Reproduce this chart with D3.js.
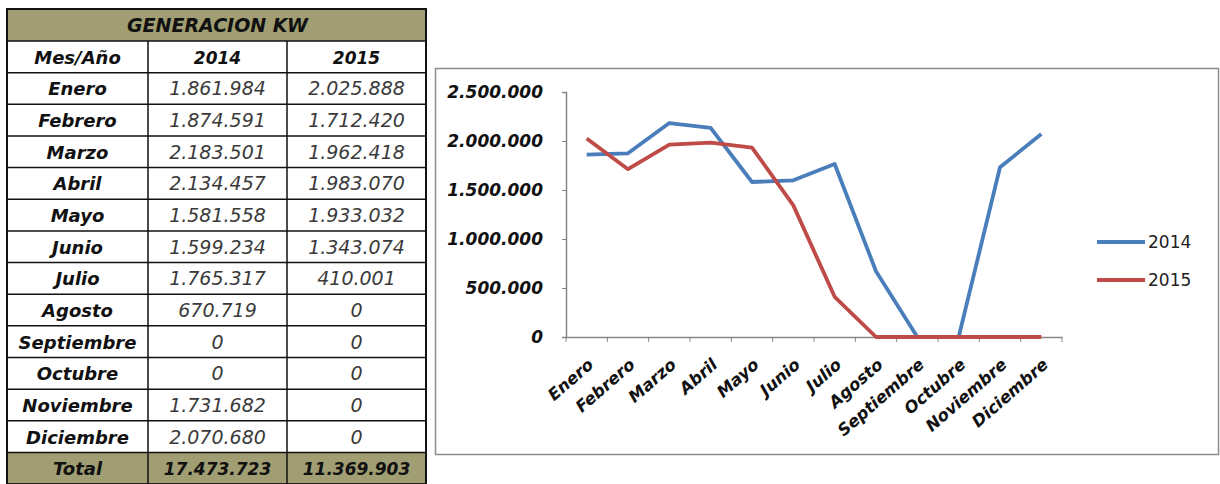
<!DOCTYPE html>
<html lang="es">
<head>
<meta charset="utf-8">
<title>Generacion KW</title>
<style>
  body { margin: 0; background: #fff; }
  svg { display: block; font-family: "DejaVu Sans", sans-serif; }
</style>
</head>
<body>
<svg id="chart" width="1220" height="484"></svg>
<script src="https://d3js.org/d3.v7.min.js"></script>
<script>
// data
var months = ["Enero", "Febrero", "Marzo", "Abril", "Mayo", "Junio", "Julio",
  "Agosto", "Septiembre", "Octubre", "Noviembre", "Diciembre"];
var years = ["2014", "2015"];
var values2014 = [1861984, 1874591, 2183501, 2134457, 1581558, 1599234, 1765317,
  670719, 0, 0, 1731682, 2070680];
var values2015 = [2025888, 1712420, 1962418, 1983070, 1933032, 1343074, 410001,
  0, 0, 0, 0, 0];
var yTicks = [0, 500000, 1000000, 1500000, 2000000, 2500000];
var colors = ["#4a7ebb", "#be4b48"];

var es = d3.formatLocale({ decimal: ",", thousands: ".", grouping: [3], currency: ["", ""] });
var fmt = es.format(",d");

var svg = d3.select("#chart");

// ---- table ----
var tLeft = 7, tTop = 9, colW = [141, 139, 139], titleH = 32, rowH = 31.65;
var olive = "#a09e72";
var tableWidth = d3.sum(colW);
var colX = [tLeft, tLeft + colW[0], tLeft + colW[0] + colW[1]];

var rows = [];
rows.push({ cells: ["Mes/Año", years[0], years[1]], kind: "head" });
months.forEach(function(m, i) {
  rows.push({ cells: [m, fmt(values2014[i]), fmt(values2015[i])], kind: "body" });
});
rows.push({ cells: ["Total", fmt(d3.sum(values2014)), fmt(d3.sum(values2015))], kind: "total" });

var table = svg.append("g");

table.append("rect")
  .attr("x", tLeft).attr("y", tTop)
  .attr("width", tableWidth).attr("height", titleH)
  .attr("fill", olive);

table.append("text")
  .attr("x", tLeft + tableWidth / 2 + 1).attr("y", tTop + titleH / 2 + 7)
  .attr("text-anchor", "middle")
  .style("font-size", "19px").style("font-weight", "bold").style("font-style", "italic")
  .attr("fill", "#111")
  .text("GENERACION KW");

rows.forEach(function(r, i) {
  var y = tTop + titleH + i * rowH;
  var g = table.append("g").attr("transform", "translate(0," + y + ")");
  if (r.kind === "total") {
    g.append("rect").attr("x", tLeft).attr("width", tableWidth).attr("height", rowH).attr("fill", olive);
  }
  r.cells.forEach(function(c, j) {
    var bold = (j === 0 || r.kind !== "body");
    var size = j === 0 ? 18 : (bold ? 17 : 19);
    g.append("text")
      .attr("x", colX[j] + colW[j] / 2).attr("y", rowH / 2 + 7)
      .attr("text-anchor", "middle")
      .style("font-size", size + "px")
      .style("font-style", "italic")
      .style("font-weight", bold ? "bold" : "normal")
      .attr("fill", bold ? "#111" : "#3a3a3a")
      .text(c);
  });
  g.append("line")
    .attr("x1", tLeft).attr("x2", tLeft + tableWidth)
    .attr("y1", 0).attr("y2", 0)
    .attr("stroke", "#111").attr("stroke-width", 1.5);
});

var tBottom = tTop + titleH + rows.length * rowH;
[colX[1], colX[2]].forEach(function(x) {
  table.append("line")
    .attr("x1", x).attr("x2", x).attr("y1", tTop + titleH).attr("y2", tBottom)
    .attr("stroke", "#111").attr("stroke-width", 1.5);
});
table.append("rect")
  .attr("x", tLeft).attr("y", tTop)
  .attr("width", tableWidth).attr("height", tBottom - tTop)
  .attr("fill", "none").attr("stroke", "#111").attr("stroke-width", 2);

// ---- chart ----
svg.append("rect")
  .attr("x", 435.5).attr("y", 68.5).attr("width", 783).attr("height", 386)
  .attr("fill", "#fff").attr("stroke", "#8c8c8c").attr("stroke-width", 1.5);

var plotLeft = 566, plotRight = 1062, plotTop = 92, plotBottom = 337;

var x = d3.scaleBand().domain(months).range([plotLeft, plotRight]);
var y = d3.scaleLinear().domain([0, 2500000]).range([plotBottom, plotTop]);

var yAxis = svg.append("g")
  .attr("transform", "translate(" + plotLeft + ",0)")
  .call(d3.axisLeft(y).tickValues(yTicks).tickSize(4).tickPadding(19)
    .tickFormat(function(d) { return fmt(d); }));
yAxis.select(".domain").attr("stroke", "#868686").attr("stroke-width", 1.5);
yAxis.selectAll(".tick line").attr("stroke", "#868686");
yAxis.selectAll("text")
  .attr("fill", "#111")
  .style("font-family", "'DejaVu Sans', sans-serif")
  .style("font-size", "17px").style("font-weight", "bold").style("font-style", "italic");

var xAxis = svg.append("g")
  .attr("transform", "translate(0," + plotBottom + ")")
  .call(d3.axisBottom(x).tickSize(0).tickSizeOuter(0));
xAxis.select(".domain").attr("stroke", "#868686").attr("stroke-width", 1.5);
xAxis.selectAll(".tick line").remove();
xAxis.selectAll("text")
  .attr("fill", "#111")
  .attr("text-anchor", "end")
  .attr("dx", "0").attr("dy", "0")
  .attr("transform", "translate(6,27) rotate(-41)")
  .style("font-family", "'DejaVu Sans', sans-serif")
  .style("font-size", "16.5px").style("font-weight", "bold").style("font-style", "italic");

// band edge ticks
xAxis.selectAll(".edge")
  .data(months.concat(["end"]))
  .enter().append("line")
  .attr("x1", function(d, i) { return plotLeft + i * x.step(); })
  .attr("x2", function(d, i) { return plotLeft + i * x.step(); })
  .attr("y1", 0).attr("y2", 5)
  .attr("stroke", "#868686");

var line = d3.line()
  .x(function(d, i) { return x(months[i]) + x.bandwidth() / 2; })
  .y(function(d) { return y(d); });

[values2014, values2015].forEach(function(vals, k) {
  svg.append("path")
    .datum(vals)
    .attr("d", line)
    .attr("fill", "none")
    .attr("stroke", colors[k])
    .attr("stroke-width", 3.8)
    .attr("stroke-linejoin", "round");
});

// legend
var legend = svg.append("g");
years.forEach(function(yr, k) {
  var ly = 242 + k * 38;
  legend.append("line")
    .attr("x1", 1097).attr("x2", 1145).attr("y1", ly).attr("y2", ly)
    .attr("stroke", colors[k]).attr("stroke-width", 4);
  legend.append("text")
    .attr("x", 1148).attr("y", ly + 6)
    .attr("fill", "#222")
    .style("font-size", "17px")
    .text(yr);
});
</script>
</body>
</html>
